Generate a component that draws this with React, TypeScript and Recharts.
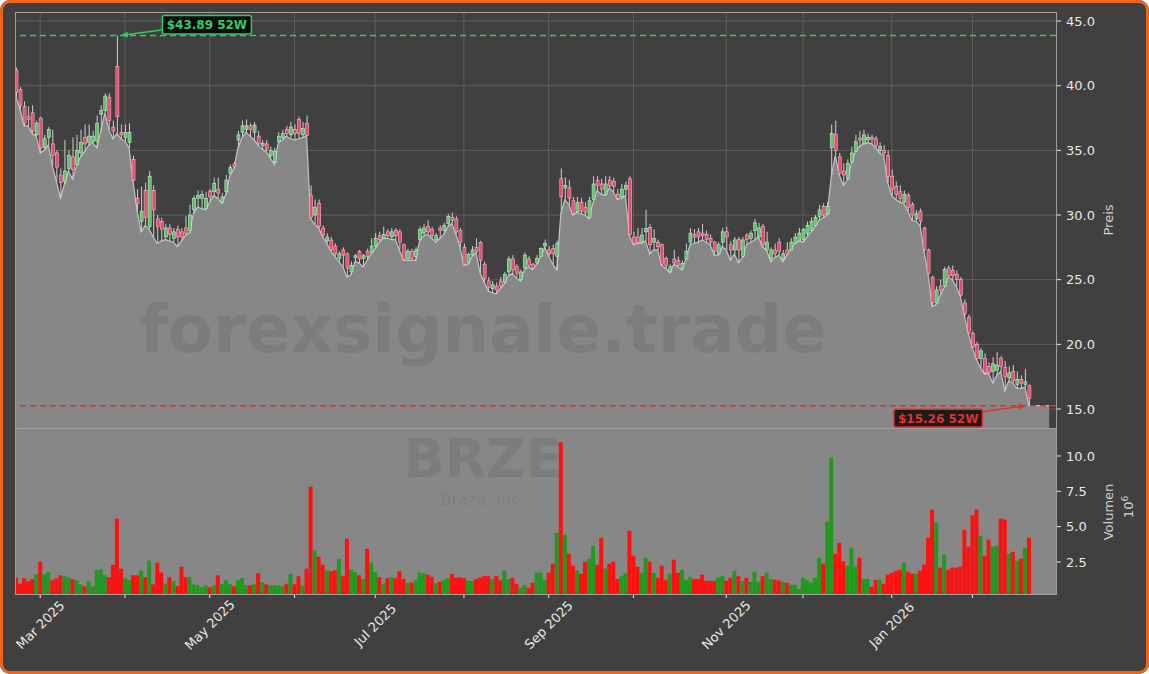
import {
  Area,
  Bar,
  CartesianGrid,
  Cell,
  ComposedChart,
  ReferenceDot,
  ReferenceLine,
  XAxis,
  YAxis,
} from 'recharts';

// BRZE daily candles, one row per trading day (Feb 21 2025 .. Feb 23 2026)
const opens = [
  41.2, 39.7, 38.4, 37.6, 37.9, 36.2, 37.5, 35.2, 36.0, 35.5,
  34.8, 33.1, 32.6, 33.6, 34.5, 33.9, 34.8, 36.0, 35.6, 35.7,
  35.7, 37.8, 38.1, 39.1, 36.8, 41.5, 36.4, 36.0, 35.6, 34.3,
  31.3, 29.5, 31.9, 29.1, 31.9, 29.7, 29.5, 28.3, 29.0, 28.2,
  28.9, 28.7, 29.0, 28.8, 30.4, 31.3, 31.3, 30.5, 31.85, 31.8,
  32.0, 31.0, 31.8, 33.2, 33.95, 35.8, 36.4, 36.6, 36.9, 36.4,
  36.1, 35.35, 35.5, 34.6, 34.1, 35.7, 36.0, 36.6, 36.2, 36.6,
  37.4, 36.2, 37.1, 31.55, 30.0, 30.9, 29.0, 28.0, 28.07, 27.6,
  26.65, 27.3, 27.0, 25.6, 26.7, 27.2, 26.65, 27.2, 27.1, 27.6,
  28.4, 28.2, 28.7, 28.3, 28.8, 28.7, 27.7, 26.6, 27.2, 26.8,
  28.1, 28.6, 29.1, 28.9, 28.1, 29.0, 28.8, 29.35, 29.8, 29.7,
  28.8, 27.5, 26.3, 26.9, 27.5, 27.9, 26.2, 24.9, 24.3, 24.5,
  24.9, 24.8, 25.6, 26.6, 26.0, 25.0, 25.9, 26.6, 26.2, 26.3,
  26.8, 27.6, 27.3, 27.4, 26.8, 32.8, 32.1, 32.1, 31.1, 30.25,
  31.0, 30.6, 29.8, 31.2, 32.65, 32.4, 31.6, 32.7, 32.6, 31.6,
  31.4, 32.0, 32.8, 28.3, 28.3, 27.9, 28.7, 29.05, 27.9, 27.9,
  27.7, 26.65, 25.6, 26.6, 26.5, 25.9, 26.6, 27.9, 28.5, 28.7,
  28.6, 28.5, 28.2, 27.9, 27.0, 27.9, 28.7, 27.7, 27.3, 28.1,
  26.8, 28.45, 28.2, 28.8, 28.3, 29.1, 27.3, 26.65, 27.3, 27.9,
  26.6, 27.3, 27.3, 27.8, 28.0, 28.1, 28.6, 28.8, 29.2, 29.9,
  30.65, 30.1, 35.2, 36.25, 34.5, 33.4, 32.8, 34.1, 34.9, 35.95,
  35.5, 35.8, 36.0, 35.9, 35.0, 35.0, 34.6, 33.0, 32.2, 31.8,
  31.0, 31.5, 30.8, 29.7, 30.3, 29.0, 27.3, 25.2, 23.2, 24.5,
  24.5, 25.9, 25.7, 25.4, 25.0, 23.2, 22.1, 20.85, 20.0, 18.9,
  18.9, 18.3, 17.9, 18.0, 18.9, 18.2, 17.4, 17.9, 16.9, 17.3,
  16.9, 16.8,
];

const highs = [
  41.4, 39.9, 38.8, 38.4, 38.5, 37.3, 37.6, 36.2, 36.8, 36.6,
  35.0, 33.6, 35.8, 35.0, 36.0, 36.2, 36.6, 37.0, 37.0, 36.5,
  37.7, 38.5, 39.4, 39.4, 37.3, 43.89, 37.0, 37.0, 37.1, 34.6,
  32.0, 32.2, 32.5, 33.4, 32.3, 30.0, 29.8, 29.3, 29.3, 29.0,
  29.2, 29.0, 29.9, 30.8, 31.5, 31.9, 31.9, 31.8, 32.0, 32.9,
  32.9, 31.7, 33.1, 33.9, 34.1, 36.5, 37.3, 37.4, 37.1, 37.2,
  36.5, 35.8, 35.8, 35.3, 35.2, 36.4, 36.6, 36.9, 37.2, 37.0,
  37.6, 37.2, 37.7, 32.3, 31.2, 31.2, 29.2, 28.6, 28.3, 27.8,
  27.2, 27.5, 27.1, 26.4, 27.0, 27.3, 27.0, 27.4, 28.2, 28.6,
  28.7, 29.1, 28.9, 29.0, 29.0, 28.9, 27.8, 27.4, 27.4, 27.5,
  29.1, 29.3, 29.6, 29.1, 28.6, 29.2, 29.4, 30.1, 30.2, 29.9,
  29.0, 27.8, 27.1, 27.6, 28.2, 28.0, 26.4, 25.2, 24.9, 24.8,
  25.2, 25.6, 26.8, 26.9, 26.2, 25.8, 27.1, 26.8, 26.3, 26.9,
  27.5, 28.1, 27.6, 27.7, 28.0, 33.6, 32.9, 32.7, 31.4, 31.4,
  31.3, 31.0, 31.4, 33.0, 33.0, 32.8, 33.0, 33.0, 32.9, 32.0,
  32.4, 32.6, 33.0, 28.7, 29.0, 29.0, 30.4, 29.3, 28.9, 28.1,
  27.8, 26.8, 26.2, 27.3, 26.8, 26.5, 27.8, 29.0, 28.9, 29.0,
  29.3, 28.8, 28.5, 28.0, 27.9, 29.0, 29.1, 28.0, 28.3, 28.3,
  28.3, 28.6, 28.8, 29.7, 29.4, 29.3, 28.7, 27.5, 27.8, 28.2,
  27.3, 27.9, 28.2, 28.6, 29.0, 29.0, 29.5, 29.8, 30.0, 30.8,
  30.9, 31.0, 37.0, 37.3, 34.8, 34.0, 34.3, 35.3, 36.2, 36.5,
  36.6, 36.3, 36.2, 36.1, 35.6, 35.4, 35.0, 33.5, 32.6, 32.3,
  31.9, 31.7, 31.0, 30.4, 30.5, 29.1, 27.4, 25.3, 24.5, 25.0,
  26.0, 26.1, 26.1, 25.7, 25.2, 23.5, 22.3, 21.0, 20.2, 19.7,
  19.3, 18.6, 19.0, 19.4, 19.1, 18.7, 18.3, 18.4, 17.9, 17.6,
  18.1, 16.9,
];

const lows = [
  39.1, 38.2, 36.9, 36.9, 36.3, 36.1, 34.8, 35.0, 35.4, 33.8,
  32.6, 31.3, 32.4, 33.4, 32.8, 33.8, 34.5, 34.9, 35.4, 35.6,
  35.2, 36.5, 37.9, 36.6, 35.9, 36.3, 35.9, 35.7, 35.2, 32.6,
  30.3, 28.7, 29.2, 28.9, 28.3, 27.8, 28.0, 28.1, 28.0, 27.9,
  27.55, 28.0, 28.45, 28.6, 30.2, 30.6, 30.5, 30.4, 31.0, 31.5,
  31.3, 30.9, 31.6, 33.1, 33.6, 35.2, 36.0, 36.4, 36.1, 35.8,
  35.4, 35.1, 34.9, 34.4, 33.9, 35.6, 35.8, 36.1, 35.9, 35.8,
  35.9, 36.0, 36.1, 29.7, 29.3, 29.0, 28.3, 27.8, 27.2, 26.8,
  26.4, 26.0, 25.2, 25.4, 26.4, 26.3, 26.0, 26.5, 27.0, 27.4,
  27.9, 28.2, 28.2, 28.1, 28.1, 27.3, 26.5, 26.5, 26.5, 26.5,
  28.0, 28.4, 28.5, 28.2, 27.9, 28.2, 28.5, 29.1, 29.35, 28.5,
  27.5, 26.1, 26.2, 26.8, 27.1, 25.5, 24.8, 24.1, 24.0, 23.9,
  24.3, 24.7, 25.3, 25.5, 25.1, 24.9, 25.8, 26.0, 25.75, 26.2,
  26.8, 27.5, 26.8, 26.2, 25.75, 30.1, 31.2, 30.8, 30.0, 30.2,
  30.1, 30.0, 29.7, 31.0, 31.9, 31.6, 31.5, 32.1, 31.8, 31.2,
  31.3, 31.5, 28.4, 27.7, 27.8, 27.8, 28.0, 27.0, 27.3, 27.3,
  26.1, 25.9, 25.55, 26.2, 26.0, 25.75, 26.6, 27.7, 27.8, 27.9,
  28.07, 27.9, 27.7, 26.9, 26.9, 27.55, 27.3, 26.5, 27.0, 26.3,
  26.7, 27.7, 27.9, 28.07, 28.3, 27.5, 27.3, 26.4, 26.7, 26.9,
  26.4, 26.9, 27.3, 27.8, 28.0, 27.9, 28.3, 28.7, 29.1, 29.6,
  29.8, 30.0, 33.0, 34.6, 33.1, 32.3, 32.7, 34.0, 34.9, 35.3,
  35.5, 35.6, 35.5, 35.2, 34.8, 34.6, 32.5, 31.5, 31.2, 31.0,
  30.9, 30.3, 29.6, 29.5, 29.2, 27.2, 25.4, 22.9, 23.1, 23.8,
  24.4, 25.2, 25.0, 24.46, 23.7, 22.2, 20.8, 19.7, 18.8, 18.2,
  17.7, 17.76, 17.0, 17.6, 17.9, 16.4, 17.2, 17.0, 16.6, 16.6,
  16.7, 15.26,
];

const closes = [
  39.5, 38.5, 37.1, 37.4, 36.5, 37.1, 35.2, 35.9, 36.6, 34.6,
  33.7, 32.5, 33.4, 34.6, 33.5, 35.0, 35.6, 35.5, 36.1, 36.1,
  37.1, 38.1, 39.2, 37.3, 36.5, 37.6, 36.2, 36.4, 36.4, 32.7,
  30.9, 30.3, 29.8, 33.0, 30.4, 29.1, 28.9, 29.0, 28.5, 28.7,
  28.3, 28.3, 28.6, 30.0, 31.3, 31.5, 31.6, 31.3, 31.4, 32.45,
  31.7, 31.4, 32.7, 33.66, 33.75, 36.2, 36.9, 36.9, 36.6, 36.96,
  35.5, 35.55, 35.1, 35.0, 34.9, 36.1, 36.3, 36.3, 36.8, 36.3,
  36.3, 36.7, 36.15, 29.8, 30.6, 29.1, 28.45, 28.3, 27.3, 27.0,
  27.0, 26.9, 25.9, 26.1, 26.85, 26.6, 26.85, 26.8, 27.6, 28.2,
  28.1, 28.5, 28.4, 28.7, 28.4, 27.9, 26.55, 27.2, 26.65, 27.3,
  28.9, 29.0, 28.7, 28.4, 28.4, 28.8, 29.2, 29.9, 29.6, 28.7,
  27.9, 26.2, 26.96, 27.3, 27.2, 26.5, 25.1, 24.4, 24.6, 24.2,
  24.5, 25.4, 26.6, 25.75, 25.5, 25.6, 26.9, 26.1, 25.9, 26.65,
  27.4, 27.8, 27.0, 27.0, 27.8, 31.4, 32.3, 31.3, 30.1, 30.95,
  30.3, 30.2, 31.1, 32.4, 32.3, 32.0, 32.4, 32.25, 32.2, 31.3,
  32.0, 32.3, 28.5, 27.8, 27.85, 28.45, 28.97, 27.7, 28.2, 27.55,
  26.2, 26.1, 26.0, 26.3, 26.1, 26.26, 27.2, 28.6, 28.3, 28.3,
  28.4, 28.1, 27.9, 27.2, 27.7, 28.7, 28.3, 27.3, 28.07, 27.3,
  28.07, 28.1, 28.6, 29.4, 29.0, 27.7, 27.9, 27.3, 27.0, 27.2,
  27.0, 27.0, 27.9, 28.3, 28.6, 28.9, 29.2, 29.5, 29.8, 30.4,
  30.0, 30.65, 36.3, 35.0, 33.2, 33.1, 34.0, 34.8, 35.67, 35.8,
  36.2, 36.0, 35.85, 35.4, 35.3, 34.8, 33.0, 32.0, 31.6, 31.3,
  31.6, 30.6, 30.0, 30.1, 29.5, 27.35, 25.5, 23.2, 24.2, 24.2,
  25.8, 25.3, 25.3, 25.0, 23.8, 22.4, 20.9, 19.8, 18.9, 19.5,
  17.8, 17.8, 18.5, 18.4, 18.3, 17.5, 17.8, 17.2, 17.3, 17.0,
  17.1, 15.8,
];

// volume in millions of shares
const volumes = [
  1.39, 0.96, 1.35, 1.14, 1.28, 1.63, 2.52, 1.63, 1.77, 1.21,
  1.35, 1.56, 1.49, 1.42, 1.28, 1.21, 0.92, 0.78, 1.14, 0.78,
  1.91, 1.98, 1.56, 1.42, 2.3, 5.57, 2.02, 1.35, 1.21, 1.56,
  1.56, 1.91, 1.42, 2.6, 0.92, 2.45, 1.77, 0.96, 1.42, 1.14,
  0.78, 2.16, 1.42, 1.42, 0.92, 0.85, 0.71, 0.85, 0.71, 0.85,
  1.56, 0.92, 1.21, 0.92, 0.78, 1.21, 1.35, 0.85, 0.85, 0.92,
  1.7, 1.07, 0.92, 0.85, 0.85, 0.85, 0.78, 0.96, 1.63, 0.92,
  1.49, 0.85, 2.02, 7.83, 3.3, 2.87, 2.3, 1.91, 1.84, 1.91,
  2.73, 1.49, 4.15, 1.98, 1.77, 1.56, 1.28, 3.44, 2.45, 1.77,
  1.42, 0.96, 1.35, 1.42, 1.35, 1.84, 1.3, 1.0, 1.05, 1.2,
  1.76, 1.7, 1.6, 1.45, 1.0, 1.1, 1.2, 1.35, 1.65, 1.4,
  1.4, 1.35, 1.2, 1.15, 1.3, 1.4, 1.5, 1.5, 1.3, 1.5,
  1.2, 1.88, 1.3, 1.38, 0.96, 0.67, 0.85, 0.67, 1.03, 1.74,
  1.74, 1.2, 1.74, 2.38, 4.57, 10.97, 4.43, 3.08, 2.24, 1.88,
  1.67, 2.52, 2.73, 3.65, 2.31, 4.22, 2.03, 2.38, 2.52, 1.3,
  1.5, 1.67, 4.71, 2.94, 2.16, 1.74, 2.8, 2.52, 1.74, 1.38,
  2.24, 1.24, 1.67, 2.66, 1.74, 1.95, 1.24, 1.45, 1.3, 1.3,
  1.6, 1.17, 1.17, 1.17, 1.38, 1.5, 1.17, 1.38, 1.88, 1.5,
  1.17, 1.38, 1.1, 1.81, 1.1, 1.5, 1.74, 1.3, 1.24, 1.2,
  1.1, 1.03, 0.89, 0.89, 0.6, 1.38, 1.24, 1.03, 1.38, 2.8,
  2.38, 5.36, 9.89, 3.08, 3.86, 2.52, 2.24, 3.51, 2.17, 2.8,
  1.3, 1.3, 0.74, 1.24, 1.24, 0.96, 1.6, 1.74, 1.88, 1.95,
  2.45, 1.81, 1.67, 1.67, 1.88, 2.31, 4.22, 6.2, 5.29, 2.1,
  3.01, 1.95, 2.1, 2.1, 2.17, 4.78, 3.58, 5.8, 6.2, 4.36,
  2.94, 4.08, 3.58, 3.65, 5.57, 5.5, 3.08, 3.22, 2.59, 2.73,
  3.51, 4.22,
];

// the low-line fill runs a few sessions past the last candle, flat at the low
const areaTailLows = [15.26, 15.26, 15.26, 15.26, 15.26];

// trading-day index of the first session of each month
const monthTicks = [6, 27, 48, 69, 89, 111, 132, 153, 176, 195, 217, 237];
const monthLabels = ['Mar 2025', '', 'May 2025', '', 'Jul 2025', '', 'Sep 2025', '', 'Nov 2025', '', 'Jan 2026', ''];
const priceTicks = [15, 20, 25, 30, 35, 40, 45];
const volumeTicks = [2.5, 5, 7.5, 10];

const high52 = 43.89;
const high52Idx = 25;
const low52 = 15.26;
const low52Idx = 251;

const FONT = 'DejaVu Sans';
const BG = '#404040';
const PANEL_GRAY = '#878787';
const GREEN_ANN = '#35c965';
const RED_ANN = '#e0302c';
const UP_FILL = '#5cc46c';
const UP_EDGE = '#c6f2cc';
const DOWN_FILL = '#e8476c';
const DOWN_EDGE = '#ffb8c8';
const WICK = '#cfcfcf';
const VOL_UP = '#1f9a1f';
const VOL_DOWN = '#ff1010';

const candleRows = opens.map((o, i) => ({
  i,
  o,
  h: highs[i],
  l: lows[i],
  c: closes[i],
  range: [lows[i], highs[i]] as [number, number],
}));
const tailRows = areaTailLows.map((l, k) => ({ i: opens.length + k, l }));
const priceData: any[] = [...candleRows, ...tailRows];

const volumeData = volumes.map((v, i) => ({ i, v, up: closes[i] >= opens[i] }));

const X_DOMAIN: [number, number] = [-0.25, 257.7];

function Candle(props: any) {
  const { x, y, width, height, payload } = props;
  if (!payload || payload.o == null || !isFinite(y) || !isFinite(height)) return <g />;
  const { o, h, l, c } = payload;
  const span = h - l || 1;
  const k = height / span;
  const yOf = (v: number) => y + (h - v) * k;
  const up = c >= o;
  const top = yOf(Math.max(o, c));
  const bot = yOf(Math.min(o, c));
  const cx = x + width / 2;
  return (
    <g>
      <line x1={cx} x2={cx} y1={y} y2={y + height} stroke={WICK} strokeWidth={1} />
      <rect
        x={x}
        y={top}
        width={width}
        height={Math.max(bot - top, 1)}
        fill={up ? UP_FILL : DOWN_FILL}
        fillOpacity={0.9}
        stroke={up ? UP_EDGE : DOWN_EDGE}
        strokeWidth={0.6}
      />
    </g>
  );
}

// arrow head polygon pointing at (x2, y2)
function headPoints(x1: number, y1: number, x2: number, y2: number, len = 7, half = 3) {
  const dx = x1 - x2;
  const dy = y1 - y2;
  const d = Math.hypot(dx, dy) || 1;
  const ux = dx / d;
  const uy = dy / d;
  const bx = x2 + ux * len;
  const by = y2 + uy * len;
  return `${x2},${y2} ${bx - uy * half},${by + ux * half} ${bx + uy * half},${by - ux * half}`;
}

function HighMarker(props: any) {
  const { cx, cy } = props;
  if (cx == null || cy == null) return <g />;
  const bx = cx + 45.5;
  const by = cy - 20;
  const sx = bx - 1;
  const sy = cy - 5.5;
  const tx = cx + 4;
  const ty = cy;
  return (
    <g>
      <line x1={sx} y1={sy} x2={tx + 5} y2={ty - 0.7} stroke={GREEN_ANN} strokeWidth={1.5} />
      <polygon points={headPoints(sx, sy, tx, ty)} fill={GREEN_ANN} />
      <rect x={bx} y={by} width={89} height={18.5} rx={2} fill="#0c0c0c" stroke={GREEN_ANN} strokeWidth={1.5} />
      <text
        x={bx + 44.5}
        y={by + 13.6}
        textAnchor="middle"
        fontFamily={FONT}
        fontWeight="bold"
        fontSize={12}
        fill={GREEN_ANN}
      >
        {`$${high52.toFixed(2)} 52W`}
      </text>
    </g>
  );
}

function LowMarker(props: any) {
  const { cx, cy } = props;
  if (cx == null || cy == null) return <g />;
  const bx = cx - 135;
  const by = cy + 3.7;
  const sx = bx + 89;
  const sy = cy + 6;
  const tx = cx - 3;
  const ty = cy;
  return (
    <g>
      <line x1={sx} y1={sy} x2={tx - 5} y2={ty + 0.7} stroke={RED_ANN} strokeWidth={1.5} />
      <polygon points={headPoints(sx, sy, tx, ty)} fill={RED_ANN} />
      <rect x={bx} y={by} width={88.5} height={17.7} rx={2} fill="#1b1b1b" stroke={RED_ANN} strokeWidth={1.5} />
      <text
        x={bx + 44.25}
        y={by + 13.2}
        textAnchor="middle"
        fontFamily={FONT}
        fontWeight="bold"
        fontSize={12}
        fill={RED_ANN}
      >
        {`$${low52.toFixed(2)} 52W`}
      </text>
    </g>
  );
}

function MonthTick(props: any) {
  const { x, y, payload } = props;
  const label = monthLabels[monthTicks.indexOf(payload?.value)] ?? '';
  if (!label) return <g />;
  const cy = y + 25;
  return (
    <text
      x={x}
      y={cy}
      textAnchor="middle"
      dominantBaseline="central"
      transform={`rotate(-45 ${x} ${cy})`}
      fill="#e8e8e8"
      fontSize={13}
      fontFamily={FONT}
    >
      {label}
    </text>
  );
}

const tickStyle = { fill: '#e8e8e8', fontSize: 13, fontFamily: FONT };
const abs = (left: number, top: number, width: number, height: number) => ({
  position: 'absolute' as const,
  left,
  top,
  width,
  height,
});

const axisTitle = {
  position: 'absolute' as const,
  transform: 'translate(-50%, -50%) rotate(-90deg)',
  color: '#d0d0d0',
  fontSize: 13,
  whiteSpace: 'nowrap' as const,
};

export default function App() {
  return (
    <div
      style={{
        position: 'fixed',
        left: 0,
        top: 0,
        width: 1149,
        height: 674,
        background: BG,
        borderRadius: 10,
        overflow: 'hidden',
        fontFamily: FONT,
      }}
    >
      {/* volume panel background + ticker watermark (under the bars) */}
      <div style={{ ...abs(15, 428, 1041, 166), background: PANEL_GRAY }} />
      <svg style={{ ...abs(0, 0, 1149, 674), pointerEvents: 'none' }} width={1149} height={674}>
        <text x={483} y={477} textAnchor="middle" fontFamily={FONT} fontWeight="bold" fontSize={54} fill="#000" fillOpacity={0.08}>
          BRZE
        </text>
        <text x={483} y={505} textAnchor="middle" fontFamily={FONT} fontSize={16} fill="#000" fillOpacity={0.08}>
          Braze, Inc.
        </text>
      </svg>

      {/* volume chart */}
      <div style={abs(0, 0, 1149, 674)}>
        <ComposedChart width={1149} height={674} data={volumeData} margin={{ top: 428, right: 33, bottom: 0, left: 15 }}>
          <XAxis
            dataKey="i"
            type="number"
            domain={X_DOMAIN}
            allowDataOverflow
            ticks={monthTicks}
            interval={0}
            height={80}
            tickSize={4}
            tickLine={{ stroke: '#e8e8e8' }}
            axisLine={false}
            tick={<MonthTick />}
          />
          <YAxis
            orientation="right"
            width={60}
            domain={[0.234, 11.98]}
            allowDataOverflow
            ticks={volumeTicks}
            tickFormatter={(v) => (v as number).toFixed(1)}
            tickSize={5}
            tickMargin={5}
            tickLine={{ stroke: '#e8e8e8' }}
            axisLine={false}
            tick={tickStyle}
          />
          <Bar dataKey="v" barSize={4} isAnimationActive={false}>
            {volumeData.map((d) => (
              <Cell key={d.i} fill={d.up ? VOL_UP : VOL_DOWN} />
            ))}
          </Bar>
        </ComposedChart>
      </div>

      {/* price chart */}
      <div style={abs(0, 0, 1149, 440)}>
        <ComposedChart width={1149} height={440} data={priceData} margin={{ top: 12, right: 33, bottom: 12, left: 15 }}>
          <CartesianGrid stroke="#5e5e5e" horizontalValues={priceTicks} verticalValues={monthTicks} />
          <XAxis dataKey="i" type="number" domain={X_DOMAIN} allowDataOverflow hide ticks={monthTicks} />
          <YAxis
            orientation="right"
            width={60}
            domain={[13.53, 45.7]}
            allowDataOverflow
            ticks={priceTicks}
            tickFormatter={(v) => (v as number).toFixed(1)}
            tickSize={5}
            tickMargin={5}
            tickLine={{ stroke: '#e8e8e8' }}
            axisLine={false}
            tick={tickStyle}
          />
          <Area
            dataKey="l"
            type="linear"
            stroke="#c4c4c4"
            strokeWidth={1.2}
            fill={PANEL_GRAY}
            fillOpacity={1}
            dot={false}
            activeDot={false}
            isAnimationActive={false}
          />
          <Bar dataKey="range" barSize={3} shape={(p: any) => <Candle {...p} />} isAnimationActive={false} />
          <ReferenceLine y={high52} stroke={GREEN_ANN} strokeDasharray="6 4" strokeWidth={1.5} />
          <ReferenceLine y={low52} stroke={RED_ANN} strokeDasharray="6 4" strokeWidth={1.5} />
          <ReferenceDot x={high52Idx} y={high52} r={0} shape={(p: any) => <HighMarker {...p} />} />
          <ReferenceDot x={low52Idx} y={low52} r={0} shape={(p: any) => <LowMarker {...p} />} />
        </ComposedChart>
      </div>

      {/* watermark over the price panel */}
      <svg style={{ ...abs(0, 0, 1149, 674), pointerEvents: 'none' }} width={1149} height={674}>
        <text x={483} y={352} textAnchor="middle" fontFamily={FONT} fontWeight="bold" fontSize={66} fill="#000" fillOpacity={0.08}>
          forexsignale.trade
        </text>
      </svg>

      {/* spines */}
      <div style={{ ...abs(15, 12, 1042, 417), border: '1px solid #a0a0a0', boxSizing: 'border-box', pointerEvents: 'none' }} />
      <div style={{ ...abs(15, 428, 1042, 167), border: '1px solid #a0a0a0', boxSizing: 'border-box', pointerEvents: 'none' }} />

      {/* axis titles */}
      <div style={{ ...axisTitle, left: 1108, top: 220 }}>Preis</div>
      <div style={{ ...axisTitle, left: 1108, top: 512 }}>Volumen</div>
      <div style={{ ...axisTitle, left: 1128, top: 507 }}>
        10<sup style={{ fontSize: 9 }}>6</sup>
      </div>

      {/* orange frame */}
      <div
        style={{
          ...abs(0, 0, 1149, 674),
          border: '3px solid #f2641c',
          borderRadius: 10,
          boxSizing: 'border-box',
          pointerEvents: 'none',
        }}
      />
    </div>
  );
}
